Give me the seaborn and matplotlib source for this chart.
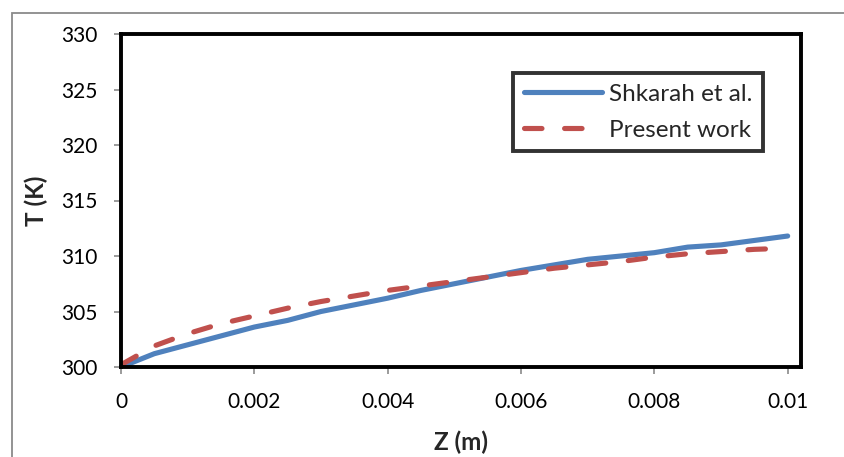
import matplotlib
matplotlib.use("Agg")
import matplotlib.pyplot as plt
from matplotlib.lines import Line2D
import seaborn as sns
import pandas as pd

z = [0, 0.0005, 0.001, 0.0015, 0.002, 0.0025, 0.003, 0.0035, 0.004, 0.0045, 0.005,
     0.0055, 0.006, 0.0065, 0.007, 0.0075, 0.008, 0.0085, 0.009, 0.0095, 0.01]
t_shkarah = [300.0, 301.2, 302.0, 302.8, 303.6, 304.2, 305.0, 305.6, 306.2, 306.9, 307.5,
             308.1, 308.7, 309.2, 309.7, 310.0, 310.3, 310.8, 311.0, 311.4, 311.8]
t_present = [300.2, 301.9, 303.0, 303.9, 304.6, 305.3, 305.9, 306.4, 306.9, 307.3, 307.7,
             308.1, 308.5, 308.9, 309.2, 309.5, 309.9, 310.2, 310.4, 310.6, 310.7]
labels = ["Shkarah et al.", "Present work"]
x_ticks = [0, 0.002, 0.004, 0.006, 0.008, 0.01]
x_ticklabels = ["0", "0.002", "0.004", "0.006", "0.008", "0.01"]
y_ticks = [300, 305, 310, 315, 320, 325, 330]

sns.set_theme(style="white")
plt.rcParams['font.family'] = ['Lato', 'DejaVu Sans']

fig = plt.figure(figsize=(8.45, 4.57), dpi=100, linewidth=0)
ax = fig.add_axes([121/845, 1-367/457, (801-121)/845, (367-34)/457])

# outer gray chart-area border (only left and top edges visible)
bx, by = 12.5/845, 1-12.5/457
fig.add_artist(Line2D([bx, bx, 1.0], [0.0, by, by], transform=fig.transFigure,
                      color="#8a8a8a", linewidth=1.3, solid_joinstyle="miter"))

df1 = pd.DataFrame({"z": z, "T": t_shkarah})
df2 = pd.DataFrame({"z": z, "T": t_present})
sns.lineplot(data=df1, x="z", y="T", ax=ax, color="#4F81BD", linewidth=3.7,
             label=labels[0], solid_capstyle="round", solid_joinstyle="round")
sns.lineplot(data=df2, x="z", y="T", ax=ax, color="#C0504D", linewidth=3.7,
             label=labels[1])
line2 = ax.get_lines()[1]
line2.set_dashes([3.4, 4.4])
line2.set_dash_capstyle("round")

ax.set_xlim(0, 0.0102)
ax.set_ylim(300, 330)
ax.set_xticks(x_ticks)
ax.set_xticklabels(x_ticklabels)
ax.set_yticks(y_ticks)
ax.tick_params(axis="both", which="both", direction="out", length=5, width=1.2,
               color="#8a8a8a", labelsize=15, labelcolor="black", bottom=True, left=True)
ax.tick_params(axis="y", pad=12)
ax.tick_params(axis="x", pad=13)
for s in ax.spines.values():
    s.set_color("black")
    s.set_linewidth(2.8)

ax.set_xlabel("Z (m)", fontsize=17.5, fontweight="bold", labelpad=13)
ax.set_ylabel("T (K)", fontsize=17.5, fontweight="bold", labelpad=9)

leg = ax.legend(loc="upper left", bbox_to_anchor=((513-121)/680, 1-(73-34)/333),
                fontsize=17.5, frameon=True, fancybox=False, handlelength=3.2,
                borderpad=0.45, labelspacing=0.6, handletextpad=0.3, borderaxespad=0)
leg.get_frame().set_edgecolor("black")
leg.get_frame().set_linewidth(2.8)

fig.savefig("out.png", dpi=100)
